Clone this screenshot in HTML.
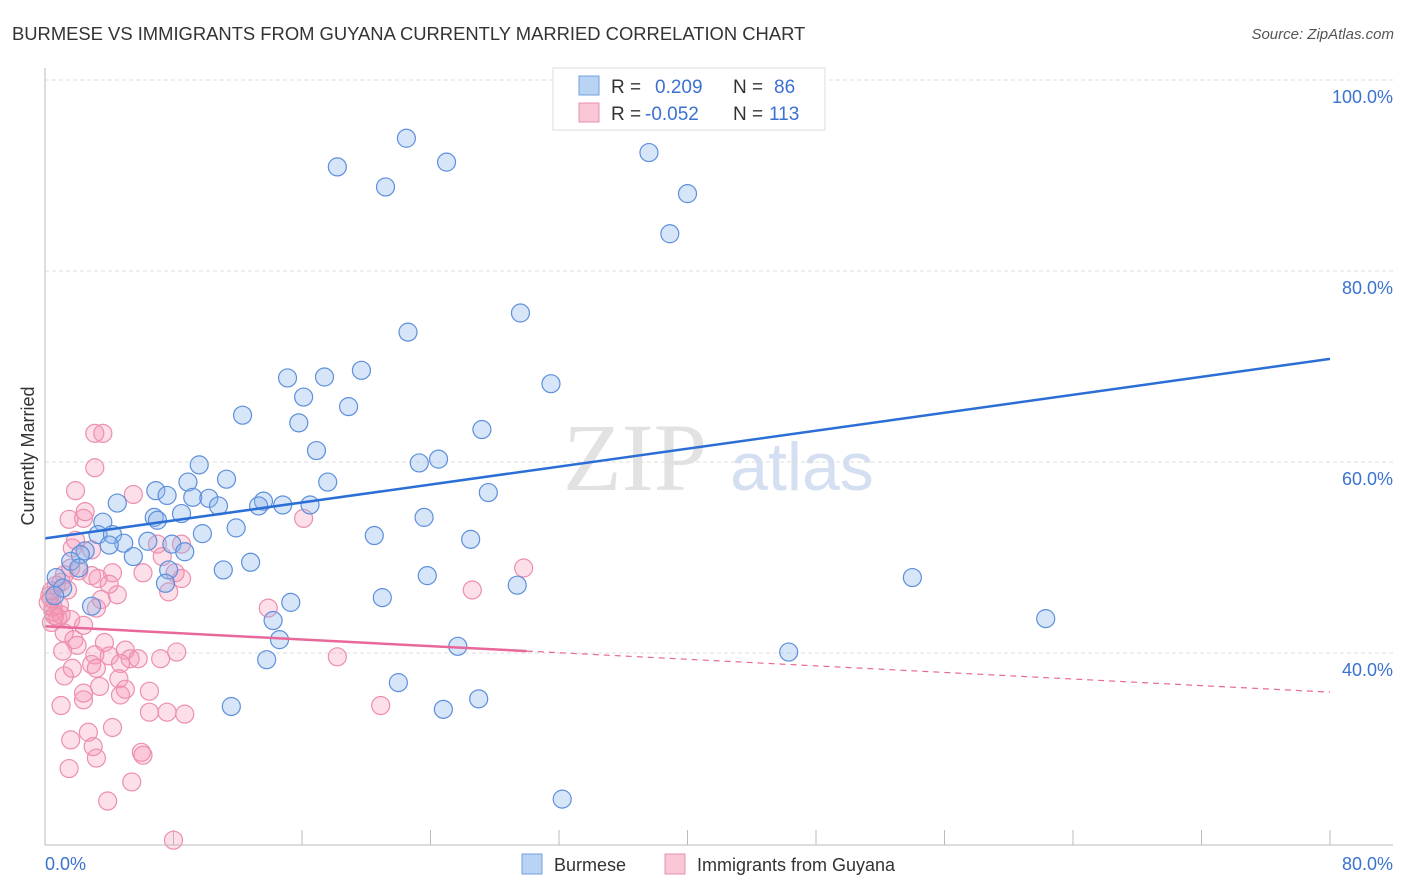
<!DOCTYPE html>
<html><head><meta charset="utf-8"><style>
body{margin:0;background:#fff;font-family:"Liberation Sans",sans-serif}
svg{display:block}
</style></head><body>
<svg id="chart" width="1406" height="892">
<text x="12" y="40" font-size="18.4" fill="#333">BURMESE VS IMMIGRANTS FROM GUYANA CURRENTLY MARRIED CORRELATION CHART</text>
<text x="1394" y="39" font-size="15" fill="#555" font-style="italic" text-anchor="end">Source: ZipAtlas.com</text>
<text x="34" y="456" font-size="18" fill="#333" text-anchor="middle" transform="rotate(-90 34 456)">Currently Married</text>
<g><text x="635" y="490" font-size="96" fill="#e2e2e2" font-family="Liberation Serif,serif" text-anchor="middle">ZIP</text><text x="802" y="490" font-size="68" fill="#d4e0f2" text-anchor="middle">atlas</text></g>
<g id="grid"></g><g id="marks"></g><g id="trend"></g>
<line x1="45" y1="68" x2="45" y2="845" stroke="#bbb"/>
<line x1="45" y1="845" x2="1393" y2="845" stroke="#bbb"/>
<text x="45" y="870" font-size="18" fill="#3b72d0">0.0%</text>
<text x="1393" y="870" font-size="18" fill="#3b72d0" text-anchor="end">80.0%</text>
<g>
<rect x="553" y="68" width="272" height="62" fill="#fff" stroke="#ddd"/>
<rect x="579" y="76" width="20" height="19" fill="#b9d3f3" stroke="#6f9fe0"/>
<rect x="579" y="103" width="20" height="19" fill="#f9c6d6" stroke="#ec8fae"/>
<text x="611" y="93" font-size="19" fill="#333">R =</text><text x="655" y="93" font-size="19" fill="#3b72d0">0.209</text>
<text x="733" y="93" font-size="19" fill="#333">N =</text><text x="774" y="93" font-size="19" fill="#3b72d0">86</text>
<text x="611" y="120" font-size="19" fill="#333">R =</text><text x="645" y="120" font-size="19" fill="#3b72d0">-0.052</text>
<text x="733" y="120" font-size="19" fill="#333">N =</text><text x="769" y="120" font-size="19" fill="#3b72d0">113</text>
</g>
<g>
<rect x="522" y="854" width="20" height="20" fill="#b9d3f3" stroke="#6f9fe0"/>
<text x="554" y="871" font-size="18" fill="#333">Burmese</text>
<rect x="665" y="854" width="20" height="20" fill="#f9c6d6" stroke="#ec8fae"/>
<text x="697" y="871" font-size="18" fill="#333">Immigrants from Guyana</text>
</g>
</svg>
<script>
const yTicks=[40,60,80,100];
const yTickLabels=["40.0%","60.0%","80.0%","100.0%"];
const xTicks=[0,8,16,24,32,40,48,56,64,72,80];
const burmeseX=[22.5,18.2,25.0,21.2,37.6,40.0,38.9,29.6,22.6,31.5,15.1,17.4,19.7,16.1,18.9,12.3,15.8,27.2,16.9,24.5,23.3,9.6,11.3,8.9,17.6,27.6,6.9,7.6,9.2,10.2,4.5,10.8,13.6,13.3,14.8,16.5,6.8,8.5,3.6,7.0,23.6,11.9,3.3,4.2,9.8,20.5,26.5,4.9,4.0,6.4,7.9,2.5,2.2,8.7,5.5,1.6,12.8,11.1,7.7,2.1,0.7,23.8,54.0,29.4,7.5,1.1,0.6,21.0,15.3,2.9,62.3,14.2,14.6,25.7,46.3,13.8,22.0,11.6,24.8,27.0,32.2];
const burmeseY=[93.9,90.9,91.4,88.8,92.4,88.1,83.9,75.6,73.6,68.2,68.8,68.9,69.6,66.8,65.8,64.9,64.1,63.4,61.2,60.3,59.9,59.7,58.2,57.9,57.9,56.8,57.0,56.5,56.3,56.2,55.7,55.4,55.9,55.4,55.5,55.5,54.2,54.6,53.7,53.9,54.2,53.1,52.4,52.4,52.5,52.3,51.9,51.5,51.3,51.7,51.4,50.7,50.3,50.6,50.1,49.6,49.5,48.7,48.7,48.9,47.9,48.1,47.9,47.1,47.3,46.8,46.0,45.8,45.3,44.9,43.6,43.4,41.4,40.7,40.1,39.3,36.9,34.4,34.1,35.2,24.7];
const guyanaX=[1.9,2.4,1.5,3.1,3.6,3.1,2.5,5.5,16.1,1.9,1.7,7.0,8.5,2.9,7.3,1.6,2.1,1.2,6.1,8.1,4.2,2.9,8.5,3.3,29.8,4.0,1.0,0.7,1.4,4.5,7.7,26.6,3.5,0.4,0.9,0.5,13.9,3.2,0.8,1.6,0.4,2.4,1.2,1.8,2.0,3.7,1.1,5.0,3.1,4.0,5.3,5.8,7.2,8.2,18.2,2.9,1.7,3.2,4.7,1.2,4.6,3.4,5.0,2.4,4.7,6.5,2.4,1.0,6.5,7.6,8.7,20.9,2.7,4.2,1.6,3.0,3.2,6.0,6.1,1.5,5.4,3.9,8.0,0.3,0.5,0.6,0.2,1.0,0.4];
const guyanaY=[57.0,54.1,54.0,63.0,63.0,59.4,54.8,56.6,54.1,51.8,51.0,51.4,51.4,50.8,50.1,48.9,48.6,48.2,48.4,48.4,48.4,48.1,47.8,47.8,48.9,47.2,47.4,47.1,46.6,46.1,46.4,46.6,45.6,45.7,45.0,44.3,44.7,44.7,43.7,43.5,43.2,42.9,42.1,41.4,40.8,41.1,40.2,40.3,39.8,39.7,39.4,39.4,39.4,40.1,39.6,38.8,38.4,38.4,38.9,37.6,37.3,36.5,36.2,35.8,35.6,36.0,35.1,34.5,33.8,33.8,33.6,34.5,31.7,32.2,30.9,30.2,29.0,29.6,29.3,27.9,26.5,24.5,20.4,46.0,44.8,43.9,45.3,44.0,46.5];
const blueTrendX=[0,80], blueTrendY=[52.0,70.8];
const pinkSolidX=[0,30], pinkSolidY=[42.8,40.2];
const pinkDashX=[30,80], pinkDashY=[40.2,35.9];
const sx=v=>45+v*1285/80, sy=v=>80+(100-v)*191/20;
const NS='http://www.w3.org/2000/svg';
function mk(t,a,p){const e=document.createElementNS(NS,t);for(const k in a)e.setAttribute(k,a[k]);p.appendChild(e);return e;}
const grid=document.getElementById('grid');
yTicks.forEach((v,i)=>{
 const l=mk('line',{x1:45,x2:1393,y1:sy(v),y2:sy(v),stroke:'#ddd','stroke-dasharray':'4 3'},grid);
 
 
 const t=mk('text',{x:1393,y:sy(v)+23,'font-size':18,fill:'#3b72d0','text-anchor':'end'},grid);
 t.textContent=yTickLabels[i];
 
 
});
xTicks.forEach(v=>{
 const l=mk('line',{x1:sx(v),x2:sx(v),y1:830,y2:845,stroke:'#bbb'},grid);
 
 
});
const marks=document.getElementById('marks');
guyanaX.forEach((x,i)=>{
 const c=mk('circle',{cx:sx(x),cy:sy(guyanaY[i]),r:9,fill:'rgba(244,150,180,0.3)',stroke:'#ec8fae','stroke-width':1.2},marks);
 
 
});
burmeseX.forEach((x,i)=>{
 const c=mk('circle',{cx:sx(x),cy:sy(burmeseY[i]),r:9,fill:'rgba(140,180,235,0.35)',stroke:'#5d8fdc','stroke-width':1.2},marks);
 
 
});
const tr=document.getElementById('trend');
let l1=mk('line',{x1:sx(blueTrendX[0]),y1:sy(blueTrendY[0]),x2:sx(blueTrendX[1]),y2:sy(blueTrendY[1]),stroke:'#2b6fd6','stroke-width':2.5},tr);


let l2=mk('line',{x1:sx(pinkSolidX[0]),y1:sy(pinkSolidY[0]),x2:sx(pinkSolidX[1]),y2:sy(pinkSolidY[1]),stroke:'#e8689a','stroke-width':2.5},tr);


let l3=mk('line',{x1:sx(pinkDashX[0]),y1:sy(pinkDashY[0]),x2:sx(pinkDashX[1]),y2:sy(pinkDashY[1]),stroke:'#e8689a','stroke-width':1.2,'stroke-dasharray':'6 5'},tr);


</script>
</body></html>
